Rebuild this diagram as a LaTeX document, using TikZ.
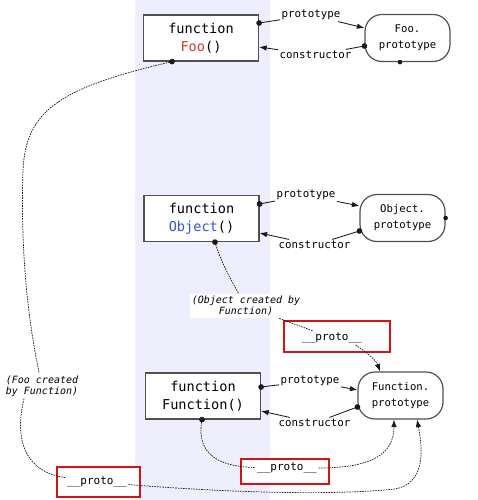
\documentclass[tikz,border=0pt]{standalone}
\usepackage{fontspec}
\setmonofont{DejaVu Sans Mono}
\usetikzlibrary{arrows.meta}
\definecolor{bandcol}{RGB}{238,238,252}
\definecolor{edgecol}{RGB}{80,80,80}
\definecolor{fooc}{RGB}{214,58,48}
\definecolor{objc}{RGB}{52,82,214}
\definecolor{framec}{RGB}{212,20,20}
\definecolor{linec}{RGB}{25,25,25}
\begin{document}
\begin{tikzpicture}[x=1pt,y=-1pt,
  fnbox/.style={draw=edgecol,fill=white,line width=1.2pt,minimum width=115pt,minimum height=46pt,inner sep=0pt,align=center,font=\fontsize{13.6}{18}\ttfamily},
  protobox/.style={draw=edgecol,fill=white,line width=1.2pt,rounded corners=17pt,minimum width=85pt,minimum height=47pt,inner sep=0pt,align=center,font=\fontsize{10.6}{16}\ttfamily},
  lbl/.style={font=\fontsize{10.8}{12}\ttfamily,inner sep=1.5pt,fill=white},
  protolbl/.style={font=\fontsize{11}{12}\ttfamily,inner sep=1.5pt,fill=white},
  note/.style={font=\fontsize{10}{11.5}\ttfamily\itshape,align=center,fill=white,inner sep=2pt},
  redframe/.style={draw=framec,fill=white,line width=2pt,inner sep=0pt},
  sline/.style={draw=linec,line width=0.85pt},
  dline/.style={draw=linec,line width=0.7pt,dash pattern=on 1.6pt off 1pt},
  dotstart/.style={arrows={{Circle[length=5.6pt]}-},shorten <=-2.8pt},
  arrowend/.style={arrows={-{Latex[length=7.5pt,width=5.5pt]}}},
]
\useasboundingbox (0,0) rectangle (477,500);
\fill[bandcol] (135,0) rectangle (270,500);

% red frames (behind the connectors)
\node[redframe,minimum width=106pt,minimum height=31pt] (frame1) at (337,336.5) {};
\node[redframe,minimum width=88pt,minimum height=25pt] (frame2) at (285,471.5) {};
\node[redframe,minimum width=83pt,minimum height=30pt] (frame3) at (98.5,482) {};

% main nodes
\node[fnbox] (foo) at (201,38) {function\\\textcolor{fooc}{Foo}()};
\node[protobox] (fooproto) at (407.5,38) {Foo.\\prototype};
\node[fnbox] (obj) at (201.5,218.5) {function\\\textcolor{objc}{Object}()};
\node[protobox] (objproto) at (402.5,218) {Object.\\prototype};
\node[fnbox] (fun) at (203,396) {function\\Function()};
\node[protobox] (funproto) at (400.5,395.5) {Function.\\prototype};

% labels
\node[lbl] (lp1) at (311,15) {prototype};
\node[lbl] (lc1) at (315.5,55) {constructor};
\node[lbl] (lp2) at (306,195) {prototype};
\node[lbl] (lc2) at (314.5,245) {constructor};
\node[lbl] (lp3) at (310,381) {prototype};
\node[lbl] (lc3) at (314.5,423) {constructor};

\node[note] (objnote) at (246,306) {(Object created by\\Function)};
\node[note] (foonote) at (42,386) {(Foo created\\by Function)};

\node[protolbl] (pr1) at (332,338) {\_\_proto\_\_};
\node[protolbl] (pr2) at (287,468) {\_\_proto\_\_};
\node[protolbl] (pr3) at (97,482) {\_\_proto\_\_};

% prototype / constructor links
\draw[sline,dotstart] ([yshift=15pt]foo.east) -- (lp1);
\draw[sline,arrowend] (lp1) -- ([yshift=10pt]fooproto.west);
\draw[sline,dotstart] ([yshift=-8pt]fooproto.west) -- (lc1);
\draw[sline,arrowend] (lc1) -- ([yshift=-9pt]foo.east);

\draw[sline,dotstart] ([yshift=14.5pt]obj.east) -- (lp2);
\draw[sline,arrowend] (lp2) -- ([yshift=12pt]objproto.west);
\draw[sline,dotstart] ([yshift=-13pt]objproto.west) -- (lc2);
\draw[sline,arrowend] (lc2) -- ([yshift=-14.5pt]obj.east);

\draw[sline,dotstart] ([yshift=9pt]fun.east) -- (lp3);
\draw[sline,arrowend] (lp3) -- ([yshift=5.5pt]funproto.west);
\draw[sline,dotstart] ([yshift=-11.5pt]funproto.west) -- (lc3);
\draw[sline,arrowend] (lc3) -- ([yshift=-15pt]fun.east);

% __proto__ chains
\draw[dline,dotstart] ([xshift=13.5pt]obj.south) .. controls (221,262) and (232,282) .. (objnote);
\draw[dline] (objnote) -- (pr1);
\draw[dline,arrowend] ([xshift=-8pt]pr1.south east) .. controls (366,352) and (376,360) .. ([xshift=-20.5pt]funproto.north);

\draw[dline,dotstart] ([xshift=-1pt]fun.south) .. controls (196,458) and (225,467) .. (pr2);
\draw[dline,arrowend] (pr2) .. controls (370,468) and (394,455) .. ([xshift=-6.5pt]funproto.south);

\draw[dline,dotstart] ([xshift=-29pt]foo.south) .. controls (60,88) and (26,110) .. (23,170) .. controls (20,260) and (30,330) .. (foonote);
\draw[dline] ([xshift=-18pt]foonote.south) .. controls (14,440) and (25,472) .. (pr3);
\draw[dline,arrowend] (pr3) .. controls (220,492) and (330,496) .. (395,489) .. controls (423,484) and (424,455) .. ([xshift=16.5pt]funproto.south);

% cut-off stubs
\fill[linec] ([xshift=-7.5pt]fooproto.south) circle (2.3pt);
\fill[linec] (objproto.east) circle (2.3pt);
\end{tikzpicture}
\end{document}
